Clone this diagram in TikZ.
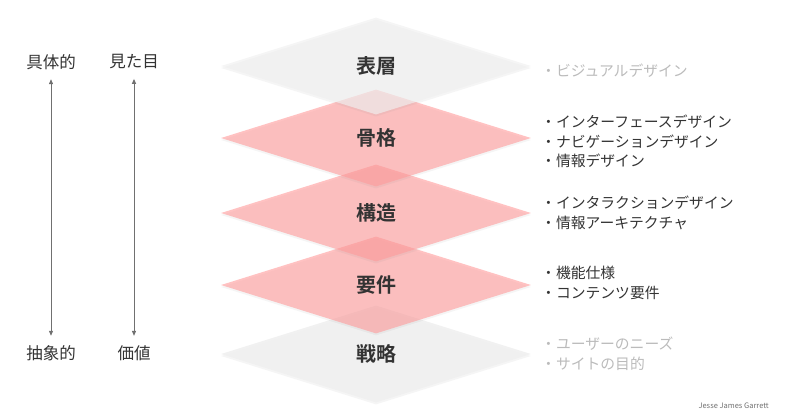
\documentclass[tikz,border=0pt]{standalone}
\usepackage{fontspec}
\setmainfont{Noto Sans CJK JP}[BoldFont={Noto Sans CJK JP Bold}]
\usetikzlibrary{positioning}
\usetikzlibrary{shapes.geometric}
\usetikzlibrary{arrows.meta}
\usetikzlibrary{shadows}

\definecolor{layergray}{HTML}{F0F0F0}
\definecolor{layerpink}{HTML}{FF9A9A}
\definecolor{textdark}{HTML}{333333}
\definecolor{textlight}{HTML}{BBBBBB}
\definecolor{arrowgray}{HTML}{707070}

\begin{document}
\begin{tikzpicture}[
  x=1pt, y=-1pt,
  layer/.style={diamond, minimum width=310pt, minimum height=97pt, inner sep=0pt,
    font=\bfseries\fontsize{20}{20}\selectfont, text=textdark, text opacity=1,
    drop shadow={shadow xshift=0pt, shadow yshift=-2pt, opacity=0.08}},
  graylayer/.style={layer, fill=layergray, fill opacity=0.9},
  pinklayer/.style={layer, fill=layerpink, fill opacity=0.6},
  sidelabel/.style={font=\fontsize{16.5}{16.5}\selectfont, text=textdark},
  item/.style={anchor=west, inner sep=0pt, font=\fontsize{14.8}{14.8}\selectfont, text=textdark},
  dimitem/.style={item, text=textlight},
  axis/.style={{Triangle[length=5pt,width=4pt]}-{Triangle[length=5pt,width=4pt]},
    draw=arrowgray, fill=arrowgray, line width=1pt, shorten >=6pt, shorten <=6pt}
]
\useasboundingbox (0,0) rectangle (800,419);

% Layers, bottom to top
\node[graylayer] (strategy) at (376,354) {戦略};
\node[pinklayer] (scope) at (376,285) {要件};
\node[pinklayer] (structure) at (376,213) {構造};
\node[pinklayer] (skeleton) at (376,138) {骨格};
\node[graylayer, fill opacity=0.65] (surface) at (376,66) {表層};

% Left side axes
\node[sidelabel] (concrete) at (51,62) {具体的};
\node[sidelabel] (abstract) at (51,353) {抽象的};
\node[sidelabel] (look) at (134,62) {見た目};
\node[sidelabel] (value) at (134,353) {価値};
\draw[axis] (concrete) -- (abstract);
\draw[axis] (look) -- (value);

% Right side lists
\node[dimitem] (surf1) at (541,71) {・ビジュアルデザイン};

\node[item] (skel1) at (541,122) {・インターフェースデザイン};
\node[item] (skel2) at (541,141.5) {・ナビゲーションデザイン};
\node[item] (skel3) at (541,161) {・情報デザイン};

\node[item] (struc1) at (541,203) {・インタラクションデザイン};
\node[item] (struc2) at (541,223) {・情報アーキテクチャ};

\node[item] (scope1) at (541,273) {・機能仕様};
\node[item] (scope2) at (541,293) {・コンテンツ要件};

\node[dimitem] (strat1) at (541,344) {・ユーザーのニーズ};
\node[dimitem] (strat2) at (541,364) {・サイトの目的};

% Credit
\node[anchor=east, inner sep=0pt, font=\fontsize{7.5}{7.5}\selectfont, text=arrowgray] (credit) at (769,406) {Jesse James Garrett};
\end{tikzpicture}
\end{document}
